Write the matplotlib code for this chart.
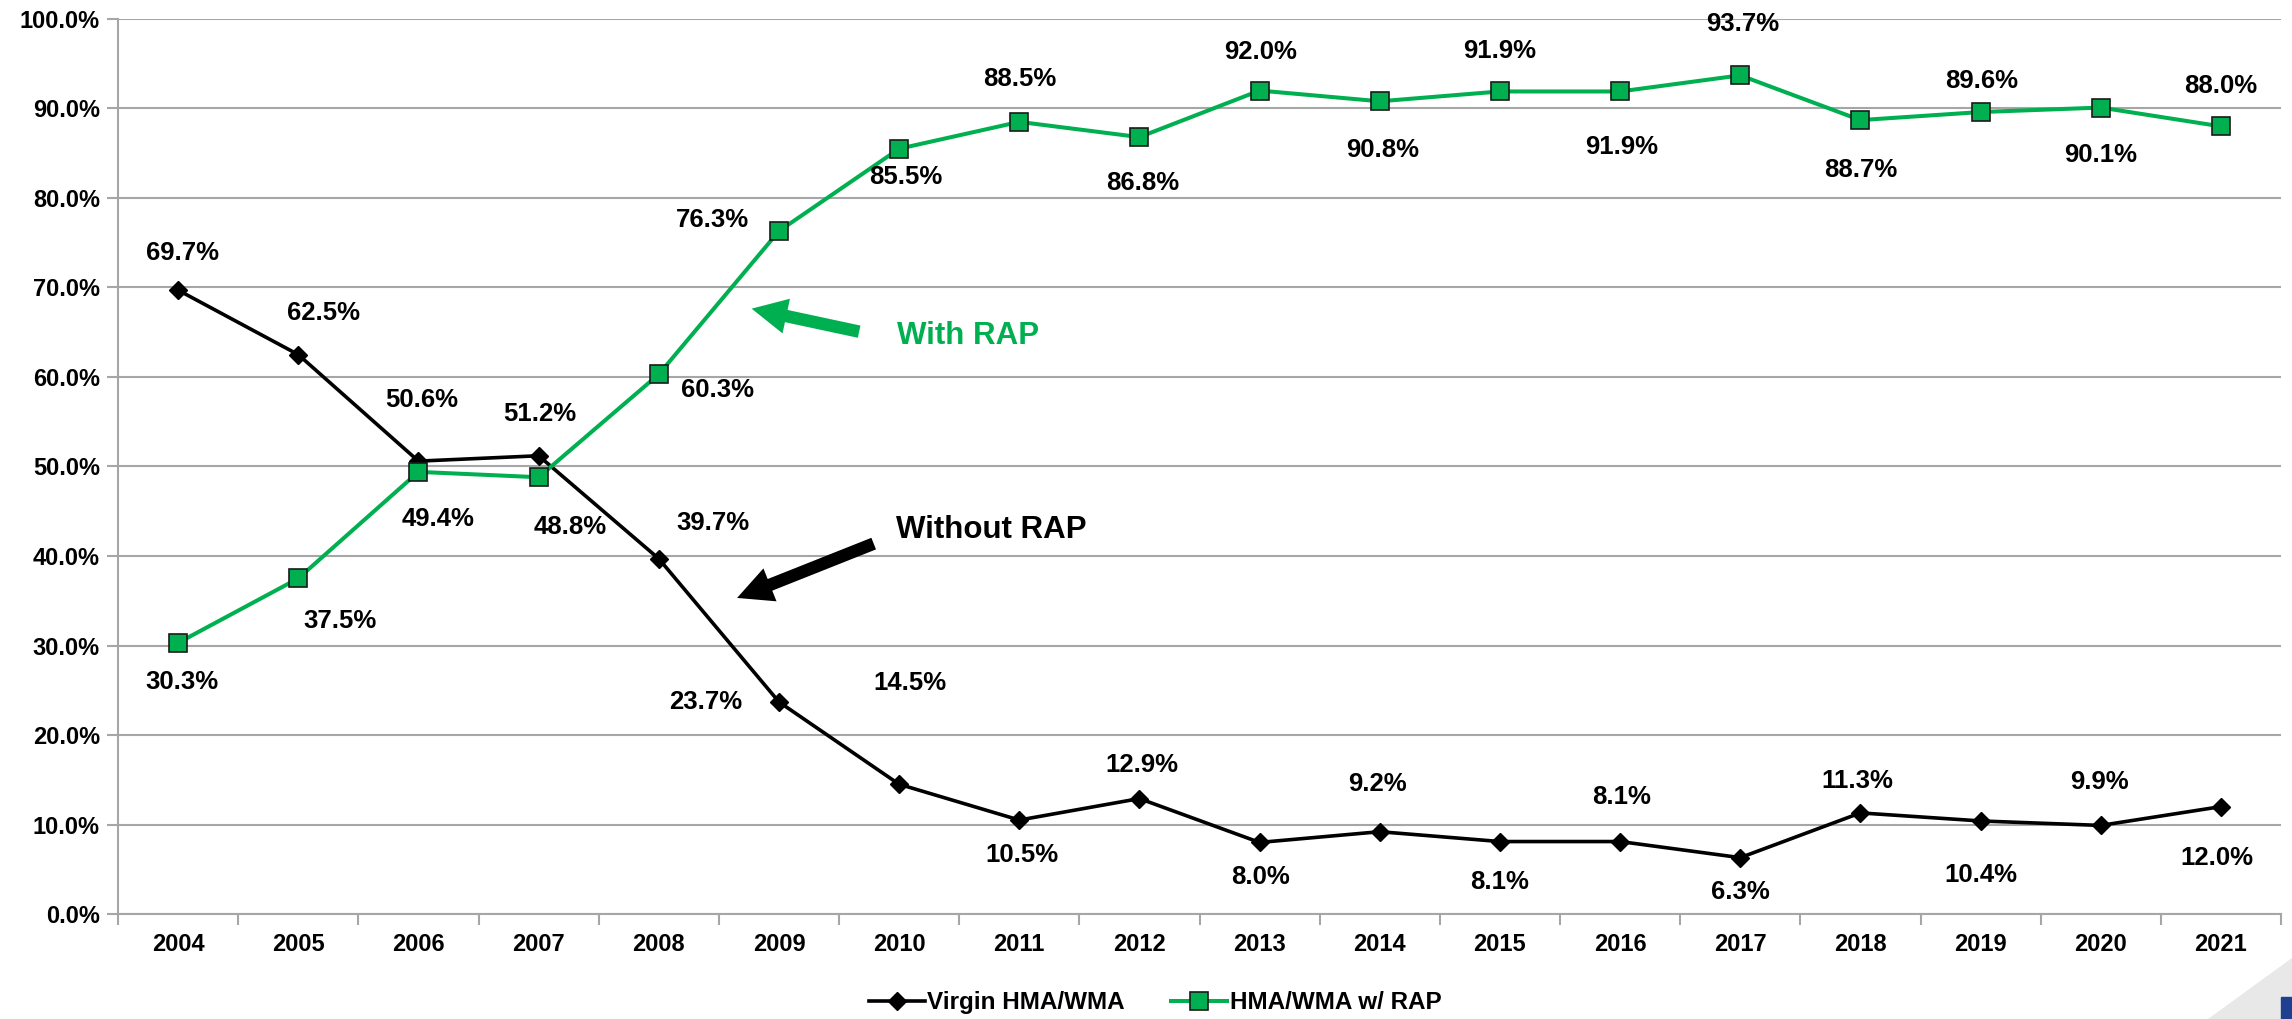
import numpy as np
import matplotlib
matplotlib.use("Agg")
import matplotlib.pyplot as plt
from matplotlib.patches import Polygon

plt.rcParams['font.family'] = ['Liberation Sans', 'DejaVu Sans']
plt.rcParams['font.weight'] = 'bold'

years = ['2004', '2005', '2006', '2007', '2008', '2009', '2010', '2011', '2012',
         '2013', '2014', '2015', '2016', '2017', '2018', '2019', '2020', '2021']
virgin = [69.7, 62.5, 50.6, 51.2, 39.7, 23.7, 14.5, 10.5, 12.9,
          8.0, 9.2, 8.1, 8.1, 6.3, 11.3, 10.4, 9.9, 12.0]
with_rap = [30.3, 37.5, 49.4, 48.8, 60.3, 76.3, 85.5, 88.5, 86.8,
            92.0, 90.8, 91.9, 91.9, 93.7, 88.7, 89.6, 90.1, 88.0]

# label offsets (points) relative to each marker
virgin_off = [(3, 27), (18, 30), (2, 44), (1, 30), (39, 26), (-53, 0), (8, 73), (2, -25), (2, 24),
              (1, -25), (-2, 34), (0, -29), (1, 32), (0, -25), (-2, 23), (0, -39), (-1, 31), (-3, -37)]
rap_off = [(3, -28), (30, -31), (14, -34), (23, -36), (42, -11), (-48, 8), (5, -20), (0, 31), (2, -33),
           (1, 28), (2, -35), (0, 29), (1, -40), (2, 37), (0, -36), (1, 22), (0, -34), (0, 29)]

GREEN = '#00B050'
GRID = '#a6a6a6'
FS = 18.5
TFS = 17

fig = plt.figure(figsize=(22.92, 10.19), dpi=100)
ax = fig.add_axes([0.0515, 0.103, 0.9437, 0.8784])

x = np.arange(len(years))
ax.plot(x, virgin, color='black', lw=2.6, marker='D', ms=9.5, mfc='black', mec='black',
        label='Virgin HMA/WMA', zorder=3)
ax.plot(x, with_rap, color=GREEN, lw=2.9, marker='s', ms=13.5, mfc=GREEN, mec='#1a1a1a',
        mew=1.2, label='HMA/WMA w/ RAP', zorder=3)

lab_kw = dict(textcoords='offset points', ha='center', va='center', fontsize=FS,
              fontweight='bold', color='black')
for i, v in enumerate(virgin):
    ax.annotate(f'{v:.1f}%', (i, v), xytext=virgin_off[i], **lab_kw)
for i, v in enumerate(with_rap):
    ax.annotate(f'{v:.1f}%', (i, v), xytext=rap_off[i], **lab_kw)

# callout arrows
arrow_style = 'simple,head_width=1.7,head_length=1.7,tail_width=0.6'
ax.annotate('', xy=(4.75, 67.7), xytext=(5.69, 65.0),
            arrowprops=dict(arrowstyle=arrow_style, mutation_scale=15, color=GREEN, lw=0))
ax.text(5.98, 64.6, 'With RAP', color=GREEN, fontsize=22.5, fontweight='bold',
        ha='left', va='center')
ax.annotate('', xy=(4.63, 35.2), xytext=(5.81, 41.5),
            arrowprops=dict(arrowstyle=arrow_style, mutation_scale=15, color='black', lw=0))
ax.text(5.97, 42.9, 'Without RAP', color='black', fontsize=22.5, fontweight='bold',
        ha='left', va='center')

ax.set_xlim(-0.5, len(years) - 0.5)
ax.set_ylim(0, 100)
ax.set_yticks(np.arange(0, 101, 10))
ax.set_yticklabels([f'{t:.1f}%' for t in np.arange(0, 101, 10)])
ax.set_xticks(x)
ax.set_xticklabels(years)
ax.set_xticks(np.arange(-0.5, len(years)), minor=True)
ax.tick_params(axis='x', which='major', length=0, pad=14, labelsize=TFS)
ax.tick_params(axis='x', which='minor', length=8, width=1.5, color=GRID)
ax.tick_params(axis='y', length=8, width=1.5, color=GRID, labelsize=TFS, pad=5)
for lbl in ax.get_xticklabels() + ax.get_yticklabels():
    lbl.set_fontweight('bold')

ax.grid(axis='y', color=GRID, lw=1.5)
ax.set_axisbelow(True)
for s in ['top', 'right']:
    ax.spines[s].set_visible(False)
for s in ['left', 'bottom']:
    ax.spines[s].set_color(GRID)
    ax.spines[s].set_linewidth(1.5)

fig.legend(loc='center', bbox_to_anchor=(0.504, 0.016), ncol=2, frameon=False,
           handlelength=2.3, handletextpad=0.1, columnspacing=1.9,
           prop={'weight': 'bold', 'size': 17.5})

# corner decoration
fig.patches.append(Polygon([(2208 / 2292, 0), (1, 0), (1, 61 / 1019)], closed=True,
                           transform=fig.transFigure, color='#e8e8e8', zorder=0))
fig.patches.append(Polygon([(2281 / 2292, 0), (1, 0), (1, 22 / 1019), (2281 / 2292, 22 / 1019)],
                           closed=True, transform=fig.transFigure, color='#1f3f8f', zorder=1))

fig.savefig('out.png', dpi=100, facecolor='white')
